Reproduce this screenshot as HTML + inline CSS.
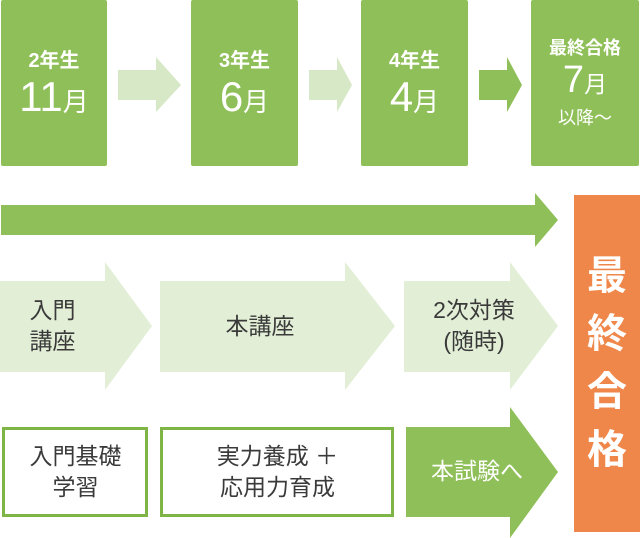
<!DOCTYPE html>
<html><head><meta charset="utf-8"><style>
body{margin:0;width:640px;height:538px;background:#fff;position:relative;overflow:hidden;font-family:"Liberation Sans","Noto Sans CJK JP",sans-serif}
.b{position:absolute;background:#8fbf58;color:#fff;text-align:center;border-radius:2px}
.t{position:absolute;text-align:center;color:#3a3a3a;font-size:23px;line-height:31px}
svg{position:absolute;left:0;top:0}
</style></head><body>
<svg width="640" height="538">
<polygon points="118,70 156,70 156,57 181,85 156,112 156,100 118,100" fill="#d7e8c6"/>
<polygon points="309,70 337,70 337,57 352,85 337,112 337,100 309,100" fill="#d7e8c6"/>
<polygon points="479,70 507,70 507,57 522,85 507,112 507,100 479,100" fill="#8fbf58"/>
<polygon points="1,205 535,205 535,193 558,220 535,247 535,235 1,235" fill="#8fbf58"/>
<polygon points="0,281 105,281 105,262 152,326 105,390 105,372 0,372" fill="#e2efd6"/>
<polygon points="160,281 345,281 345,262 395,326 345,390 345,372 160,372" fill="#e2efd6"/>
<polygon points="404,281 510,281 510,262 558,326 510,390 510,372 404,372" fill="#e2efd6"/>
<polygon points="406,427 510,427 510,407 558,472 510,538 510,517 406,517" fill="#8fbf58"/>
<rect x="3.5" y="428.5" width="143" height="87" fill="#fff" stroke="#7fb446" stroke-width="3"/>
<rect x="161.5" y="428.5" width="231" height="87" fill="#fff" stroke="#7fb446" stroke-width="3"/>
</svg>
<div class="b" style="left:1px;top:0;width:106px;height:166px"><div style="margin-top:44px;font-size:20px;font-weight:bold">2年生</div><div style="font-size:42px;line-height:48px">11<span style="font-size:26px">月</span></div></div>
<div class="b" style="left:191px;top:0;width:107px;height:166px"><div style="margin-top:44px;font-size:20px;font-weight:bold">3年生</div><div style="font-size:42px;line-height:48px">6<span style="font-size:26px">月</span></div></div>
<div class="b" style="left:361px;top:0;width:107px;height:166px"><div style="margin-top:44px;font-size:20px;font-weight:bold">4年生</div><div style="font-size:42px;line-height:48px">4<span style="font-size:26px">月</span></div></div>
<div class="b" style="left:531px;top:0;width:108px;height:166px"><div style="margin-top:34px;font-size:18px;font-weight:bold">最終合格</div><div style="font-size:38px;line-height:40px">7<span style="font-size:23px">月</span></div><div style="font-size:18px">以降～</div></div>
<div class="b" style="left:574px;top:195px;width:66px;height:337px;background:#f0874a;border-radius:0;font-size:40px;font-weight:bold;line-height:58px;padding-top:52px;box-sizing:border-box">最<br>終<br>合<br>格</div>
<div class="t" style="left:0;top:295px;width:105px">入門<br>講座</div>
<div class="t" style="left:160px;top:311px;width:200px">本講座</div>
<div class="t" style="left:404px;top:295px;width:140px">2次対策<br>(随時)</div>
<div class="t" style="left:3px;top:441px;width:145px">入門基礎<br>学習</div>
<div class="t" style="left:161px;top:441px;width:233px">実力養成 ＋<br>応用力育成</div>
<div class="t" style="left:406px;top:456px;width:142px;color:#fff">本試験へ</div>
</body></html>
